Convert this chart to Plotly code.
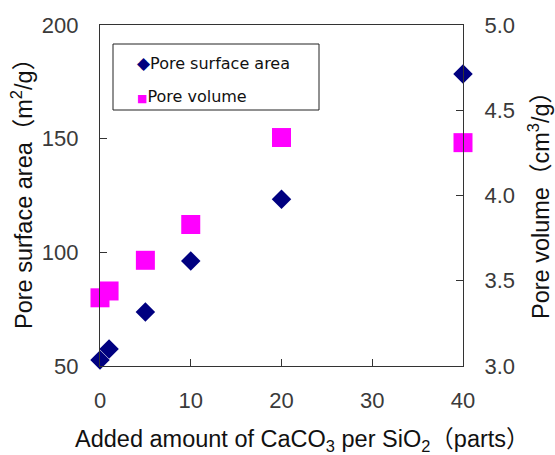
import plotly.graph_objects as go

# Added CaCO3 (parts per SiO2) and the measured pore properties
caco3_parts = [0, 1, 5, 10, 20, 40]
surface_area = [52.6, 57.5, 73.7, 96.2, 123.4, 178.5]   # m2/g
pore_volume = [3.40, 3.44, 3.62, 3.83, 4.34, 4.31]      # cm3/g

x_ticks = [0, 10, 20, 30, 40]
area_ticks = [50, 100, 150, 200]
volume_ticks = [3.0, 3.5, 4.0, 4.5, 5.0]

series_names = ["Pore surface area", "Pore volume"]
series_colors = ["#000080", "#FF00FF"]

W, H = 555, 455
L, R, T, B = 100, 92, 25, 89
pw, ph = W - L - R, H - T - B


def px_to_paper(px, py):
    return (px - L) / pw, (H - B - py) / ph


fig = go.Figure()
fig.add_trace(go.Scatter(
    x=caco3_parts, y=surface_area, mode="markers", name=series_names[0],
    marker=dict(symbol="diamond", size=15, color=series_colors[0], line=dict(width=0)),
    cliponaxis=False, showlegend=False,
))
fig.add_trace(go.Scatter(
    x=caco3_parts, y=pore_volume, yaxis="y2", mode="markers", name=series_names[1],
    marker=dict(symbol="square", size=19, color=series_colors[1], line=dict(width=0)),
    cliponaxis=False, showlegend=False,
))

tick_font = dict(family="Liberation Sans Narrow, Liberation Sans, sans-serif", size=22, color="#3a3a3a")
title_font = dict(family="Liberation Sans, Noto Sans CJK JP, sans-serif", size=23.5, color="#111111")
axis_common = dict(
    showline=True, linecolor="#333333", linewidth=1.2,
    ticks="inside", ticklen=7, tickwidth=1.2, tickcolor="#333333",
    showgrid=False, zeroline=False, tickfont=tick_font,
)

fig.update_layout(
    width=W, height=H,
    margin=dict(l=L, r=R, t=T, b=B),
    paper_bgcolor="white", plot_bgcolor="white",
    xaxis=dict(range=[0, 40], tickvals=x_ticks, mirror=True, ticklabelstandoff=14, **axis_common),
    yaxis=dict(range=[50, 200], tickvals=area_ticks, ticklabelstandoff=16, **axis_common),
    yaxis2=dict(range=[3, 5], tickvals=volume_ticks, tickformat=".1f", overlaying="y",
                side="right", ticklabelstandoff=16, **axis_common),
)

# Axis titles
ax, ay = px_to_paper(302, 440)
fig.add_annotation(text="Added amount of CaCO<sub>3</sub> per SiO<sub>2</sub>（parts）",
                   xref="paper", yref="paper", x=ax, y=ay, showarrow=False,
                   xanchor="center", yanchor="middle", font=title_font)
lx, ly = px_to_paper(22, 188)
fig.add_annotation(text="Pore surface area（m<sup>2</sup>/g）",
                   xref="paper", yref="paper", x=lx, y=ly, showarrow=False, textangle=-90,
                   xanchor="center", yanchor="middle", font=title_font)
rx, ry = px_to_paper(539, 200)
fig.add_annotation(text="Pore volume（cm<sup>3</sup>/g）",
                   xref="paper", yref="paper", x=rx, y=ry, showarrow=False, textangle=-90,
                   xanchor="center", yanchor="middle", font=title_font)

# Legend box
bx0, by1 = px_to_paper(113, 44)
bx1, by0 = px_to_paper(319, 110)
fig.add_shape(type="rect", xref="paper", yref="paper", x0=bx0, x1=bx1, y0=by0, y1=by1,
              line=dict(color="#222222", width=1), fillcolor="white", layer="above")
legend_font = dict(family="DejaVu Sans, sans-serif", size=16, color="#111111")
glyphs = ["◆", "■"]
glyph_sizes = [17, 11]
for i, (name, color, glyph, gs) in enumerate(zip(series_names, series_colors, glyphs, glyph_sizes)):
    gx, gy = px_to_paper(135, 63 + 33 * i)
    fig.add_annotation(text=f"<span style='color:{color};font-size:{gs}px'>{glyph}</span>{name}",
                       xref="paper", yref="paper", x=gx, y=gy, showarrow=False,
                       xanchor="left", yanchor="middle", font=legend_font)

fig.write_html("out.html")
